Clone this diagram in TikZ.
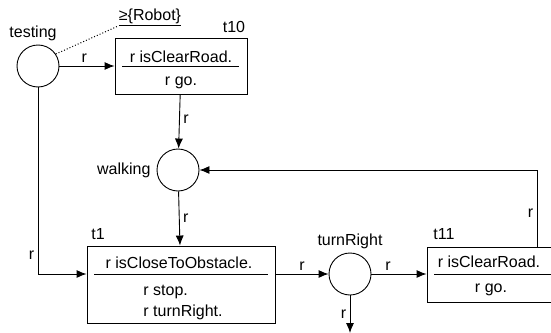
\documentclass[tikz,border=0pt]{standalone}
\usepackage{fontspec}
\setmainfont{Liberation Sans}
\usetikzlibrary{arrows.meta}
\tikzset{>={Latex[length=10pt,width=8pt]}}

\begin{document}
\begin{tikzpicture}[x=1pt,y=-1pt,font=\fontsize{16}{18}\selectfont,line width=0.9pt]
	\tikzset{place/.style={draw,circle,minimum size=42pt,inner sep=0pt},
		trans/.style={draw,rectangle,inner sep=0pt},
		txt/.style={inner sep=0pt}}
	\clip (0,0) rectangle (551,332);
	% places
	\node[place] (testing) at (38,66) {};
	\node[place] (walking) at (178,170) {};
	\node[place] (turnRight) at (350,274) {};
	\node[txt] (testing lbl) at (33,33) {testing};
	\node[txt,anchor=east] (walking lbl) at (151,170) {walking};
	\node[txt] (turnRight lbl) at (350,241) {turnRight};
	\node[txt] (robot) at (150,17) {\underline{≥\{Robot\}}};
	\draw[dotted,line width=1pt] (testing.34) -- (robot.south west);
	% transitions
	\node[trans,minimum width=132pt,minimum height=56pt] (t10) at (181,66) {};
	\node[txt] (t10 lbl) at (234,27) {t10};
	\node[txt] (t10 grd) at (181,57) {r isClearRoad.};
	\node[txt] (t10 act) at (181,83) {r go.};
	\draw (122,66) -- (239,66);
	\node[trans,minimum width=188pt,minimum height=77pt] (t1) at (181,284.5) {};
	\node[txt] (t1 lbl) at (98,234) {t1};
	\node[txt] (t1 grd) at (179,263) {r isCloseToObstacle.};
	\node[txt,anchor=west] (t1 act1) at (143,292) {r stop.};
	\node[txt,anchor=west] (t1 act2) at (143,312) {r turnRight.};
	\draw (94,274) -- (268,274);
	\node[trans,minimum width=130pt,minimum height=55pt] (t11) at (492,274.5) {};
	\node[txt] (t11 lbl) at (444,234) {t11};
	\node[txt] (t11 grd) at (489,262) {r isClearRoad.};
	\node[txt] (t11 act) at (491,290) {r go.};
	\draw (434,274) -- (551,274);
	\coordinate (t11 out) at (537,247);
	\coordinate (sink) at (350,333);
	% arcs
	\draw[->] (testing) -- node[above,pos=0.45]{r} (t10);
	\draw[->] (t10) -- node[right,pos=0.45]{r} (walking);
	\draw[->] (walking) -- node[right]{r} (t1);
	\draw[->] (testing) |- node[left,pos=0.45]{r} (t1.west |- turnRight);
	\draw[->] (t1.east |- turnRight) -- node[above]{r} (turnRight);
	\draw[->] (turnRight) -- node[above,pos=0.3]{r} (t11.west |- turnRight);
	\draw[->] (t11 out) |- node[left,pos=0.22]{r} (walking);
	\draw[->] (turnRight) -- node[left]{r} (sink);
\end{tikzpicture}
\end{document}
